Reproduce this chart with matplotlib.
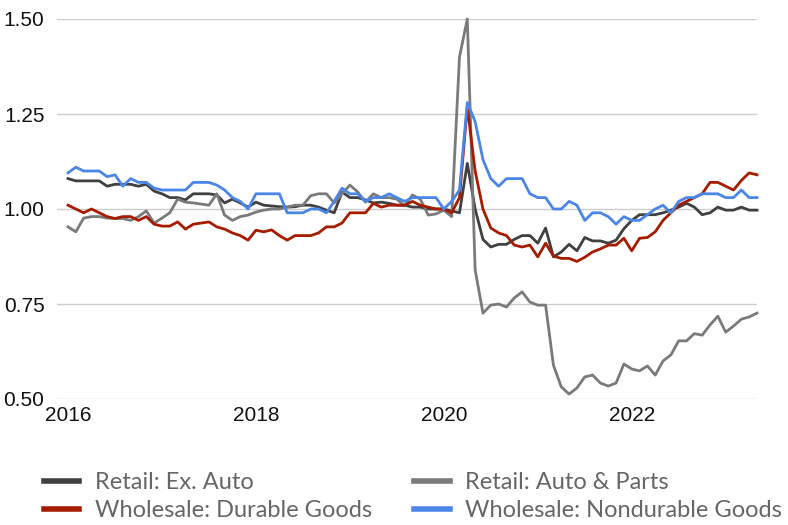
import numpy as np
import matplotlib
matplotlib.use("Agg")
import matplotlib.pyplot as plt

# monthly, Jan 2016 .. May 2023
start_year = 2016
year_ticks = [2016, 2018, 2020, 2022]

retail_ex_auto = [
    1.080, 1.074, 1.074, 1.074, 1.074, 1.060, 1.065, 1.065, 1.065, 1.060, 1.065, 1.047,
    1.040, 1.030, 1.030, 1.024, 1.040, 1.040, 1.040, 1.037, 1.016, 1.026, 1.016, 1.005,
    1.018, 1.010, 1.008, 1.006, 1.005, 1.006, 1.010, 1.010, 1.005, 0.997, 0.990, 1.045,
    1.030, 1.030, 1.024, 1.016, 1.018, 1.015, 1.010, 1.010, 1.005, 1.005, 1.000, 1.000,
    1.000, 0.995, 0.990, 1.120, 1.000, 0.920, 0.900, 0.907, 0.907, 0.920, 0.930, 0.930,
    0.910, 0.950, 0.874, 0.887, 0.907, 0.890, 0.925, 0.916, 0.916, 0.910, 0.918, 0.948,
    0.970, 0.985, 0.985, 0.985, 0.990, 0.997, 1.005, 1.015, 1.005, 0.985, 0.990, 1.005,
    0.997, 0.997, 1.005, 0.997, 0.997,
]

retail_auto_parts = [
    0.953, 0.940, 0.976, 0.980, 0.980, 0.976, 0.975, 0.975, 0.970, 0.980, 0.995, 0.963,
    0.976, 0.990, 1.026, 1.018, 1.016, 1.013, 1.010, 1.040, 0.984, 0.970, 0.980, 0.984,
    0.992, 0.997, 1.000, 1.000, 1.005, 1.010, 1.010, 1.035, 1.040, 1.040, 1.016, 1.040,
    1.063, 1.045, 1.018, 1.040, 1.030, 1.030, 1.026, 1.008, 1.037, 1.026, 0.984, 0.987,
    0.997, 0.980, 1.400, 1.500, 0.840, 0.726, 0.747, 0.750, 0.742, 0.766, 0.782, 0.755,
    0.747, 0.747, 0.589, 0.532, 0.513, 0.529, 0.558, 0.563, 0.542, 0.534, 0.542, 0.592,
    0.579, 0.574, 0.587, 0.563, 0.600, 0.616, 0.653, 0.653, 0.672, 0.668, 0.695, 0.718,
    0.676, 0.692, 0.710, 0.716, 0.726,
]

wholesale_durable = [
    1.010, 1.000, 0.990, 1.000, 0.990, 0.980, 0.975, 0.980, 0.980, 0.970, 0.980, 0.960,
    0.955, 0.955, 0.966, 0.947, 0.960, 0.963, 0.966, 0.953, 0.947, 0.937, 0.930, 0.918,
    0.944, 0.940, 0.945, 0.930, 0.918, 0.930, 0.930, 0.930, 0.937, 0.953, 0.953, 0.963,
    0.990, 0.990, 0.990, 1.015, 1.005, 1.010, 1.010, 1.010, 1.020, 1.010, 1.005, 1.000,
    1.000, 0.990, 1.030, 1.270, 1.100, 1.000, 0.950, 0.937, 0.930, 0.905, 0.900, 0.905,
    0.874, 0.910, 0.876, 0.870, 0.870, 0.862, 0.873, 0.887, 0.895, 0.905, 0.905, 0.923,
    0.890, 0.923, 0.925, 0.940, 0.970, 0.990, 1.010, 1.020, 1.030, 1.040, 1.070, 1.070,
    1.060, 1.050, 1.075, 1.095, 1.090,
]

wholesale_nondurable = [
    1.095, 1.110, 1.100, 1.100, 1.100, 1.085, 1.090, 1.060, 1.080, 1.070, 1.070, 1.055,
    1.050, 1.050, 1.050, 1.050, 1.070, 1.070, 1.070, 1.063, 1.050, 1.030, 1.020, 1.000,
    1.040, 1.040, 1.040, 1.040, 0.990, 0.990, 0.990, 1.000, 1.000, 0.990, 1.020, 1.055,
    1.040, 1.040, 1.020, 1.030, 1.030, 1.040, 1.030, 1.020, 1.030, 1.030, 1.030, 1.030,
    1.000, 1.020, 1.050, 1.280, 1.230, 1.130, 1.080, 1.060, 1.080, 1.080, 1.080, 1.040,
    1.030, 1.030, 1.000, 1.000, 1.020, 1.010, 0.970, 0.990, 0.990, 0.980, 0.960, 0.980,
    0.970, 0.970, 0.985, 1.000, 1.010, 0.990, 1.020, 1.030, 1.030, 1.040, 1.040, 1.040,
    1.030, 1.030, 1.050, 1.030, 1.030,
]

series = [
    ("Retail: Ex. Auto", retail_ex_auto, "#404040"),
    ("Retail: Auto & Parts", retail_auto_parts, "#7a7a7a"),
    ("Wholesale: Durable Goods", wholesale_durable, "#a61c00"),
    ("Wholesale: Nondurable Goods", wholesale_nondurable, "#4a86e8"),
]

months = np.arange(len(retail_ex_auto))

fig = plt.figure(figsize=(7.88, 5.25), dpi=100)
ax = fig.add_axes([57 / 788, 126 / 525, 700 / 788, 380 / 525])

lines = {}
for name, vals, col in series:
    ln, = ax.plot(months, vals, color=col, lw=2.0, clip_on=False, zorder=3)
    lines[name] = ln

ax.set_xlim(-11 / 7.83, months[-1])
ax.set_ylim(0.5, 1.5)
ax.set_yticks([0.5, 0.75, 1.0, 1.25, 1.5])
ax.set_yticklabels(["0.50", "0.75", "1.00", "1.25", "1.50"])
ax.set_xticks([(y - start_year) * 12 for y in year_ticks])
ax.set_xticklabels([str(y) for y in year_ticks])
ax.grid(axis="y", color="#cccccc", lw=1)
ax.set_axisbelow(True)
for s in ax.spines.values():
    s.set_visible(False)
ax.tick_params(length=0, labelsize=15, colors="#111111")
ax.tick_params(axis="y", pad=9)
ax.tick_params(axis="x", pad=5)
for t in ax.get_xticklabels() + ax.get_yticklabels():
    t.set_fontfamily("Liberation Sans")

# legend, row by row
order = ["Retail: Ex. Auto", "Wholesale: Durable Goods",
         "Retail: Auto & Parts", "Wholesale: Nondurable Goods"]
handles = []
for name in order:
    h, = ax.plot([], [], color=lines[name].get_color(), lw=4)
    handles.append(h)
leg = fig.legend(handles, order, ncol=2, loc="upper left",
                 bbox_to_anchor=(44 / 788, 1 - 472 / 525), frameon=False,
                 prop={"family": "Lato", "size": 17}, handlelength=1.5,
                 handletextpad=0.64, columnspacing=1.8, labelspacing=0.3,
                 borderpad=0, borderaxespad=0)
for t in leg.get_texts():
    t.set_color("#666666")

plt.savefig("out.png", dpi=100)
